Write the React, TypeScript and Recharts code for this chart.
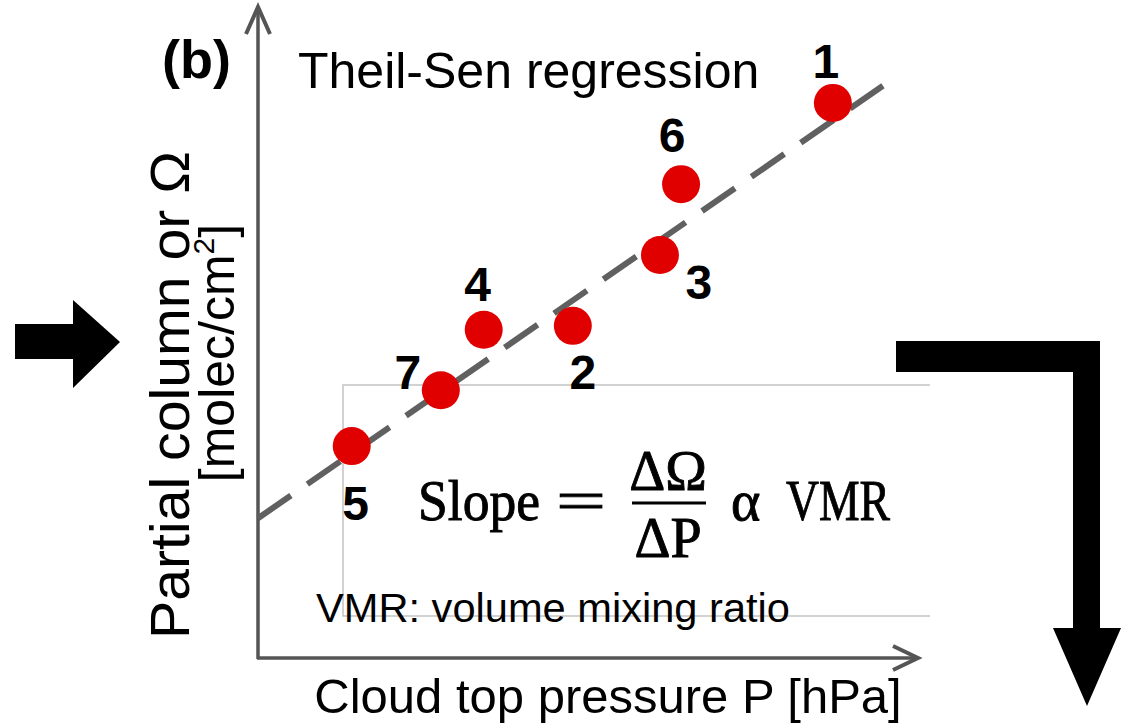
import { ScatterChart, Scatter, XAxis, YAxis } from 'recharts';

// schematic units: x = cloud top pressure, y = partial column
const pointIds = ['1', '2', '3', '4', '5', '6', '7'];
const pressure = [8.71, 4.77, 6.09, 3.42, 1.42, 6.41, 2.77];
const column = [8.54, 5.11, 6.2, 5.05, 3.26, 7.29, 4.12];

// Theil-Sen fit line end points
const fitX = [0, 9.55];
const fitY = [2.15, 8.86];

const points = pointIds.map((id, i) => ({ id, x: pressure[i], y: column[i] }));
const fitLine = fitX.map((x, i) => ({ x, y: fitY[i] }));

// where each number sits relative to its dot
const labelOffset: Record<string, [number, number]> = {
  '1': [-7, -41],
  '2': [10, 47],
  '3': [39, 27],
  '4': [-6, -45],
  '5': [4, 57],
  '6': [-9, -49],
  '7': [-33, -18],
};

const SANS = '"Liberation Sans", Arial, sans-serif';
const SERIF = '"Liberation Serif", "Times New Roman", serif';

function Dot(props: any) {
  const { cx, cy, payload } = props;
  const [dx, dy] = labelOffset[payload.id] ?? [0, -40];
  return (
    <g>
      <circle cx={cx} cy={cy} r={19} fill="#e00000" />
      <text
        x={cx + dx}
        y={cy + dy}
        textAnchor="middle"
        dominantBaseline="central"
        fontFamily={SANS}
        fontWeight="bold"
        fontSize={48}
        fill="#000"
      >
        {payload.id}
      </text>
    </g>
  );
}

function Decorations() {
  const axis = '#555';
  return (
    <svg width={1122} height={727} style={{ position: 'absolute', left: 0, top: 0 }}>
      {/* pasted formula box */}
      <path d="M930 385 H343 V616 H930" fill="none" stroke="#c4c4c4" strokeWidth={1.5} />

      {/* axes with open arrow heads */}
      <line x1={258} y1={659} x2={258} y2={7} stroke={axis} strokeWidth={3.5} />
      <polyline points="246,34 258,7 270,34" fill="none" stroke={axis} strokeWidth={4} />
      <line x1={257} y1={658} x2={917} y2={658} stroke={axis} strokeWidth={3.5} />
      <polyline points="893,646 918,658 893,670" fill="none" stroke={axis} strokeWidth={4} />

      <text x={162} y={78} fontFamily={SANS} fontWeight="bold" fontSize={54} fill="#000">
        (b)
      </text>
      <text x={298} y={88} fontFamily={SANS} fontSize={50} fill="#000">
        Theil-Sen regression
      </text>

      <g transform="translate(0,395) rotate(-90)">
        <text
          x={0}
          y={189}
          textAnchor="middle"
          fontFamily={SANS}
          fontSize={56}
          textLength={488}
          lengthAdjust="spacingAndGlyphs"
          fill="#000"
        >
          Partial column or Ω
        </text>
        <text x={42} y={234} textAnchor="middle" fontFamily={SANS} fontSize={50} fill="#000">
          [molec/cm<tspan fontSize={30} dy={-20}>2</tspan>
          <tspan dy={20}>]</tspan>
        </text>
      </g>

      <text x={608} y={713} textAnchor="middle" fontFamily={SANS} fontSize={49} fill="#000">
        Cloud top pressure P [hPa]
      </text>

      {/* formula */}
      <g fontFamily={SERIF} fontSize={56} fill="#000" stroke="#000" strokeWidth={0.9}>
        <text x={418} y={520} textLength={122} lengthAdjust="spacingAndGlyphs">Slope</text>
        <text x={556} y={520} textLength={50} lengthAdjust="spacingAndGlyphs">=</text>
        <text x={668} y={490} textAnchor="middle">ΔΩ</text>
        <line x1={632} y1={503} x2={706} y2={503} stroke="#000" strokeWidth={3} />
        <text x={668} y={557} textAnchor="middle">ΔP</text>
        <text x={731} y={520}>α</text>
        <text x={786} y={520} textLength={104} lengthAdjust="spacingAndGlyphs">VMR</text>
      </g>
      <text
        x={316}
        y={622}
        fontFamily={SANS}
        fontSize={41}
        textLength={474}
        lengthAdjust="spacingAndGlyphs"
        fill="#000"
      >
        VMR: volume mixing ratio
      </text>

      {/* block arrows */}
      <path d="M15 324 H73 V300 L120 342 L73 388 V359 H15 Z" fill="#000" />
      <path d="M896 341 H1100 V628 H1121 L1087 706 L1053 628 H1073 V372 H896 Z" fill="#000" />
    </svg>
  );
}

export default function App() {
  return (
    <div style={{ position: 'absolute', left: 0, top: 0, width: 1122, height: 727, background: '#fff' }}>
      <Decorations />
      <div style={{ position: 'absolute', left: 0, top: 0 }}>
        <ScatterChart width={1122} height={727} margin={{ top: 8, right: 204, bottom: 69, left: 258 }}>
          <XAxis type="number" dataKey="x" domain={[0, 10]} hide />
          <YAxis type="number" dataKey="y" domain={[0, 10]} hide />
          <Scatter
            data={fitLine}
            line={{ stroke: '#606060', strokeWidth: 6, strokeDasharray: '40 20' }}
            shape={() => <g />}
            isAnimationActive={false}
          />
          <Scatter data={points} shape={<Dot />} isAnimationActive={false} />
        </ScatterChart>
      </div>
    </div>
  );
}
